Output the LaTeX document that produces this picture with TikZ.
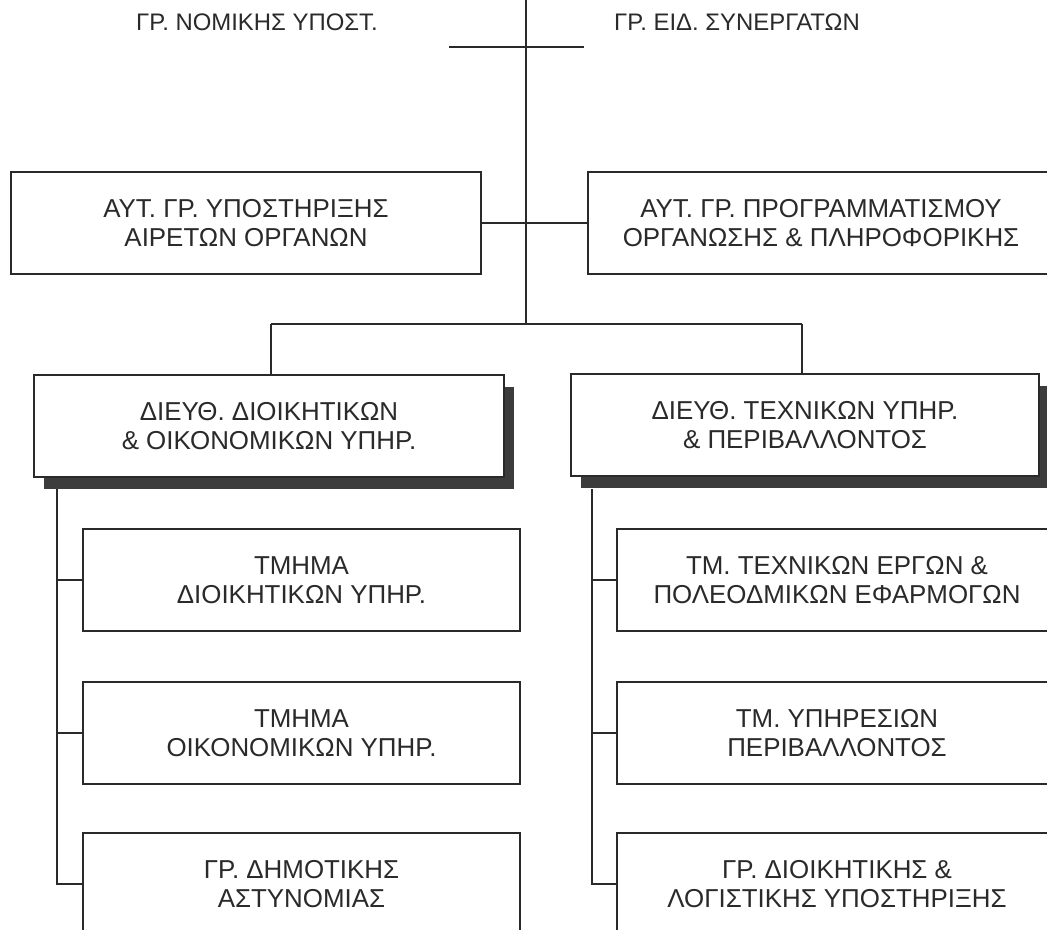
\documentclass[tikz,border=0pt]{standalone}
\usepackage{fontspec}
\setmainfont{Liberation Sans}
\usetikzlibrary{shadows}
\definecolor{ink}{HTML}{2A2A2A}
\definecolor{shade}{HTML}{3C3C3C}
\begin{document}
\begin{tikzpicture}[x=1bp,y=-1bp,
  lbl/.style={font=\fontsize{24}{28}\selectfont, text=ink, align=center, inner sep=0pt},
  unit/.style={draw=ink, line width=2bp, fill=white, minimum height=102bp, align=center,
     font=\fontsize{26}{29}\selectfont, text=ink, inner sep=0pt},
  dirbox/.style={unit, drop shadow={shadow xshift=10bp, shadow yshift=-12bp, fill=shade, opacity=1}},
  conn/.style={draw=ink, line width=1.2bp}]
\useasboundingbox (0,0) rectangle (1047,930);
\clip (0,0) rectangle (1047,930);
\fill[white] (0,0) rectangle (1047,930);
% staff labels
\node[lbl] (nomik) at (257,22) {ΓΡ. ΝΟΜΙΚΗΣ ΥΠΟΣΤ.};
\node[lbl] (eid) at (737,22) {ΓΡ. ΕΙΔ. ΣΥΝΕΡΓΑΤΩΝ};
\coordinate (stL) at (449,47);
\coordinate (stR) at (584,47);
\coordinate (topC) at (526,0);
\coordinate (busC) at (526,324);
\coordinate (busL) at (271,324);
\coordinate (busR) at (802,324);
% top boxes
\node[unit, minimum width=470bp] (aut1) at (246,223) {ΑΥΤ. ΓΡ. ΥΠΟΣΤΗΡΙΞΗΣ\\ΑΙΡΕΤΩΝ ΟΡΓΑΝΩΝ};
\node[unit, minimum width=466bp] (aut2) at (821,223) {ΑΥΤ. ΓΡ. ΠΡΟΓΡΑΜΜΑΤΙΣΜΟΥ\\ΟΡΓΑΝΩΣΗΣ \& ΠΛΗΡΟΦΟΡΙΚΗΣ};
% directorates
\node[dirbox, minimum width=470bp] (dir1) at (269,426) {ΔΙΕΥΘ. ΔΙΟΙΚΗΤΙΚΩΝ\\\& ΟΙΚΟΝΟΜΙΚΩΝ ΥΠΗΡ.};
\node[dirbox, minimum width=468bp] (dir2) at (805,425) {ΔΙΕΥΘ. ΤΕΧΝΙΚΩΝ ΥΠΗΡ.\\\& ΠΕΡΙΒΑΛΛΟΝΤΟΣ};
% left children
\node[unit, minimum width=437bp] (l1) at (301.5,580) {ΤΜΗΜΑ\\ΔΙΟΙΚΗΤΙΚΩΝ ΥΠΗΡ.};
\node[unit, minimum width=437bp] (l2) at (301.5,733) {ΤΜΗΜΑ\\ΟΙΚΟΝΟΜΙΚΩΝ ΥΠΗΡ.};
\node[unit, minimum width=437bp] (l3) at (301.5,884) {ΓΡ. ΔΗΜΟΤΙΚΗΣ\\ΑΣΤΥΝΟΜΙΑΣ};
% right children
\node[unit, minimum width=440bp] (r1) at (837,580) {ΤΜ. ΤΕΧΝΙΚΩΝ ΕΡΓΩΝ \&\\ΠΟΛΕΟΔΜΙΚΩΝ ΕΦΑΡΜΟΓΩΝ};
\node[unit, minimum width=440bp] (r2) at (837,733) {ΤΜ. ΥΠΗΡΕΣΙΩΝ\\ΠΕΡΙΒΑΛΛΟΝΤΟΣ};
\node[unit, minimum width=440bp] (r3) at (837,884) {ΓΡ. ΔΙΟΙΚΗΤΙΚΗΣ \&\\ΛΟΓΙΣΤΙΚΗΣ ΥΠΟΣΤΗΡΙΞΗΣ};
% connectors
\draw[conn] (topC) -- (busC);
\draw[draw=ink, line width=2bp] (stL) -- (stR);
\draw[conn] (aut1.east) -- (aut2.west);
\draw[conn] (busL) -- (busR);
\draw[conn] (busL) -- (dir1.north -| busL);
\draw[conn] (busR) -- (dir2.north -| busR);
\coordinate (spL) at (57,489);
\coordinate (spR) at (592,489);
\draw[conn] (spL) |- (l3.west);
\draw[conn] (spL |- l1.west) -- (l1.west);
\draw[conn] (spL |- l2.west) -- (l2.west);
\draw[conn] (spR) |- (r3.west);
\draw[conn] (spR |- r1.west) -- (r1.west);
\draw[conn] (spR |- r2.west) -- (r2.west);
\end{tikzpicture}
\end{document}
